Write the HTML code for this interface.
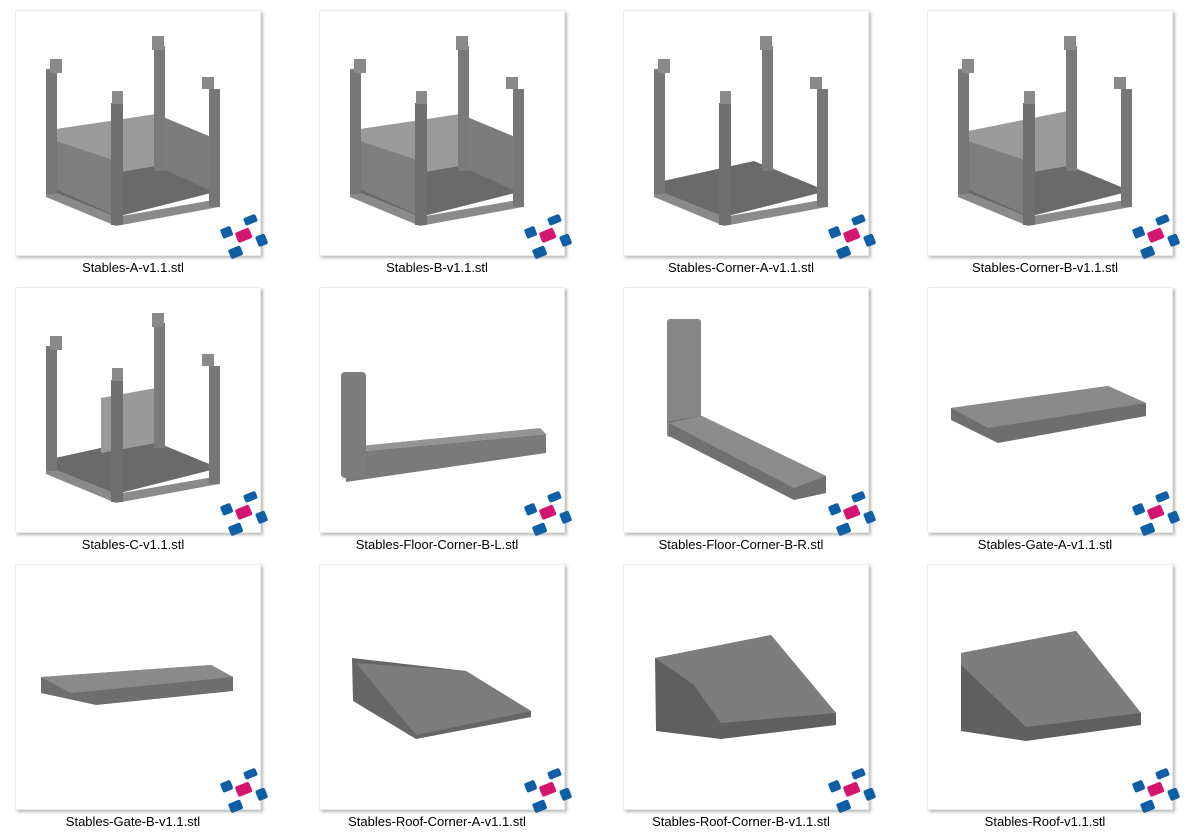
<!DOCTYPE html>
<html><head><meta charset="utf-8"><style>
body{margin:0;width:1192px;height:839px;background:#fff;position:relative;overflow:hidden;font-family:"Segoe UI","Liberation Sans",sans-serif;}
.card{position:absolute;width:244px;height:244px;background:#fff;border:1px solid #ececec;box-shadow:2px 2px 3px rgba(0,0,0,.28);}
.card svg{position:absolute;left:0;top:0;overflow:visible;}
.lbl{position:absolute;width:300px;text-align:center;font-size:13px;color:#000;}
</style></head><body>
<svg width="0" height="0" style="position:absolute">
<defs>
<g id="logo" transform="translate(-2,-2)">
<rect x="-7" y="-5" width="15" height="11" rx="2" fill="#d4166f" transform="translate(229,226) rotate(-22)"/>
<rect x="-5" y="-4.5" width="11" height="10" rx="2" fill="#0f5fa6" transform="translate(212,223) rotate(-22)"/>
<rect x="-6" y="-4" width="13" height="8" rx="2" fill="#0f5fa6" transform="translate(236,211) rotate(-22)"/>
<rect x="-4.5" y="-5" width="10" height="11" rx="2" fill="#0f5fa6" transform="translate(247,231) rotate(-22)"/>
<rect x="-6" y="-4.5" width="13" height="10" rx="2" fill="#0f5fa6" transform="translate(221,243) rotate(-22)"/>
</g>
<g id="posts">
<rect x="30" y="58" width="11" height="125" fill="#777"/><rect x="34" y="48" width="12" height="14" fill="#8a8a8a"/>
<rect x="138" y="35" width="11" height="125" fill="#7a7a7a"/><rect x="136" y="25" width="12" height="14" fill="#8a8a8a"/>
<rect x="193" y="78" width="11" height="118" fill="#777"/><rect x="186" y="66" width="12" height="12" fill="#8a8a8a"/>
<rect x="95" y="92" width="12" height="122" fill="#6f6f6f"/><rect x="96" y="80" width="11" height="13" fill="#8a8a8a"/>
</g>
<g id="floor">
<polygon points="30,178 100,206 203,188 203,196 100,215 30,186" fill="#8a8a8a"/>
<polygon points="30,172 130,150 203,180 100,206 30,178" fill="#6a6a6a"/>
</g>
<g id="stA"><use href="#floor"/>
<polygon points="40,118 140,103 140,155 40,172" fill="#9a9a9a"/>
<polygon points="140,103 200,128 200,182 140,155" fill="#7c7c7c"/>
<polygon points="40,130 100,150 100,205 40,178" fill="#7e7e7e"/>
<use href="#posts"/></g>
<g id="stCA"><use href="#floor"/><use href="#posts"/></g>
<g id="stCB"><use href="#floor"/>
<polygon points="40,120 140,100 140,155 40,172" fill="#9a9a9a"/>
<polygon points="40,130 100,150 100,205 40,178" fill="#7e7e7e"/>
<use href="#posts"/></g>
<g id="stC"><use href="#floor"/>
<polygon points="85,110 140,100 140,155 85,165" fill="#999"/>
<use href="#posts"/></g>
</defs></svg>

<!-- row 1 -->
<div class="card" style="left:15px;top:10px"><svg width="245" height="245"><use href="#stA"/><use href="#logo"/></svg></div>
<div class="card" style="left:319px;top:10px"><svg width="245" height="245"><use href="#stA"/><use href="#logo"/></svg></div>
<div class="card" style="left:623px;top:10px"><svg width="245" height="245"><use href="#stCA"/><use href="#logo"/></svg></div>
<div class="card" style="left:927px;top:10px"><svg width="245" height="245"><use href="#stCB"/><use href="#logo"/></svg></div>
<div class="lbl" style="left:-17px;top:260px">Stables-A-v1.1.stl</div>
<div class="lbl" style="left:287px;top:260px">Stables-B-v1.1.stl</div>
<div class="lbl" style="left:591px;top:260px">Stables-Corner-A-v1.1.stl</div>
<div class="lbl" style="left:895px;top:260px">Stables-Corner-B-v1.1.stl</div>

<!-- row 2 -->
<div class="card" style="left:15px;top:287px"><svg width="245" height="245"><use href="#stC"/><use href="#logo"/></svg></div>
<div class="card" style="left:319px;top:287px"><svg width="245" height="245">
<polygon points="24,165 226,146 226,165 26,194" fill="#7a7a7a"/>
<polygon points="24,165 226,146 220,140 40,158" fill="#949494"/>
<rect x="21" y="84" width="25" height="106" rx="4" fill="#7d7d7d"/>
<use href="#logo"/></svg></div>
<div class="card" style="left:623px;top:287px"><svg width="245" height="245">
<rect x="43" y="31" width="34" height="118" rx="3" fill="#858585"/>
<polygon points="45,133 78,128 202,188 202,205 170,212 45,148" fill="#707070"/>
<polygon points="78,128 202,188 170,200 45,135" fill="#8c8c8c"/>
<use href="#logo"/></svg></div>
<div class="card" style="left:927px;top:287px"><svg width="245" height="245">
<polygon points="23,120 180,98 218,115 218,128 70,155 23,132" fill="#6e6e6e"/>
<polygon points="23,120 180,98 218,115 60,140" fill="#8a8a8a"/>
<use href="#logo"/></svg></div>
<div class="lbl" style="left:-17px;top:537px">Stables-C-v1.1.stl</div>
<div class="lbl" style="left:287px;top:537px">Stables-Floor-Corner-B-L.stl</div>
<div class="lbl" style="left:591px;top:537px">Stables-Floor-Corner-B-R.stl</div>
<div class="lbl" style="left:895px;top:537px">Stables-Gate-A-v1.1.stl</div>

<!-- row 3 -->
<div class="card" style="left:15px;top:564px"><svg width="245" height="245">
<polygon points="25,112 195,100 217,112 217,126 80,140 25,128" fill="#6e6e6e"/>
<polygon points="25,112 195,100 217,112 55,128" fill="#8a8a8a"/>
<use href="#logo"/></svg></div>
<div class="card" style="left:319px;top:564px"><svg width="245" height="245">
<polygon points="32,93 146,106 211,146 211,152 96,174 33,136" fill="#666"/>
<polygon points="36,98 146,106 211,146 96,170" fill="#7c7c7c"/>
<use href="#logo"/></svg></div>
<div class="card" style="left:623px;top:564px"><svg width="245" height="245">
<polygon points="31,93 147,70 212,148 212,160 97,174 32,166" fill="#5f5f5f"/>
<polygon points="31,93 147,70 212,148 97,158 70,120" fill="#7d7d7d"/>
<use href="#logo"/></svg></div>
<div class="card" style="left:927px;top:564px"><svg width="245" height="245">
<polygon points="33,88 148,66 213,148 213,160 98,176 33,166" fill="#5f5f5f"/>
<polygon points="33,88 148,66 213,148 98,162 33,100" fill="#7d7d7d"/>
<use href="#logo"/></svg></div>
<div class="lbl" style="left:-17px;top:814px">Stables-Gate-B-v1.1.stl</div>
<div class="lbl" style="left:287px;top:814px">Stables-Roof-Corner-A-v1.1.stl</div>
<div class="lbl" style="left:591px;top:814px">Stables-Roof-Corner-B-v1.1.stl</div>
<div class="lbl" style="left:895px;top:814px">Stables-Roof-v1.1.stl</div>
</body></html>
